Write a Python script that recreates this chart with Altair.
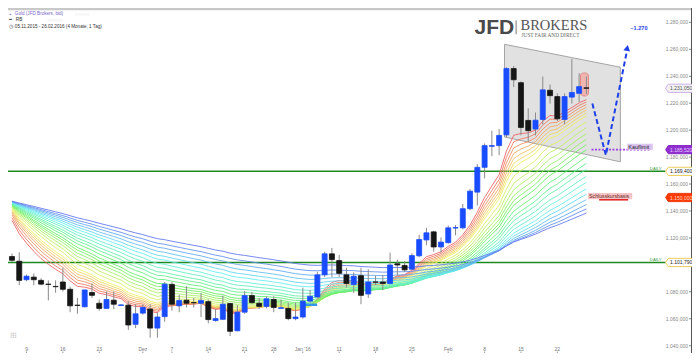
import colorsys
import altair as alt
import pandas as pd

# ---------------- data ----------------
day_index = list(range(-2, 78))
opens = [1106.2, 1102.7, 1089.0, 1090.9, 1088.5, 1085.7, 1084.0, 1087.3, 1081.9, 1070.1,
         1068.9, 1079.5, 1071.5, 1067.7, 1073.8, 1069.9, 1070.1, 1055.9, 1064.2, 1067.2,
         1053.1, 1061.6, 1085.5, 1069.6, 1073.8, 1072.0, 1071.5, 1072.7, 1058.7, 1059.6,
         1071.3, 1051.1, 1064.9, 1077.2, 1071.5, 1069.2, 1074.3, 1067.7, 1067.7, 1060.1,
         1061.3, 1073.1, 1076.2, 1092.6, 1108.2, 1103.2, 1092.6, 1085.5, 1092.0, 1078.4,
         1087.3, 1087.3, 1086.2, 1100.8, 1099.6, 1096.8, 1106.7, 1118.5, 1124.5, 1113.3,
         1116.5, 1127.3, 1127.5, 1141.7, 1154.0, 1172.4, 1188.0, 1188.5, 1196.5, 1245.7,
         1235.2, 1207.2, 1200.8, 1207.9, 1229.6, 1224.9, 1207.9, 1224.5, 1227.3, 1231.4]
highs = [1108.4, 1109.3, 1092.8, 1093.7, 1090.1, 1088.5, 1088.5, 1097.9, 1083.8, 1075.5,
         1081.4, 1086.2, 1074.3, 1080.2, 1080.2, 1070.8, 1073.1, 1070.8, 1070.8, 1070.8,
         1064.9, 1087.3, 1087.3, 1077.9, 1084.2, 1075.5, 1079.1, 1074.3, 1067.2, 1077.2,
         1072.0, 1070.1, 1080.7, 1079.8, 1075.5, 1076.7, 1076.7, 1074.3, 1072.0, 1072.0,
         1083.1, 1081.4, 1094.9, 1109.8, 1112.6, 1107.4, 1097.9, 1094.4, 1097.9, 1096.8,
         1092.0, 1092.6, 1109.1, 1103.9, 1102.7, 1108.6, 1122.3, 1127.5, 1125.2, 1120.4,
         1129.2, 1129.6, 1145.2, 1156.4, 1174.8, 1190.1, 1199.6, 1200.8, 1246.7, 1247.6,
         1236.2, 1216.2, 1213.1, 1239.8, 1233.9, 1227.3, 1227.3, 1252.8, 1242.2, 1239.8]
lows = [1102.0, 1084.9, 1087.8, 1084.9, 1084.9, 1073.6, 1079.3, 1080.2, 1064.9, 1063.7,
        1068.4, 1075.5, 1066.0, 1067.2, 1067.2, 1069.4, 1051.8, 1053.1, 1063.0, 1045.9,
        1045.9, 1057.8, 1066.0, 1064.9, 1068.4, 1068.4, 1061.3, 1056.6, 1057.8, 1059.4,
        1047.2, 1050.7, 1063.7, 1070.8, 1067.2, 1067.7, 1064.9, 1067.2, 1058.9, 1058.9,
        1060.1, 1072.0, 1075.5, 1090.9, 1090.9, 1090.9, 1083.1, 1079.1, 1070.8, 1075.5,
        1084.9, 1081.4, 1085.5, 1092.0, 1094.9, 1096.3, 1105.7, 1114.5, 1109.8, 1109.1,
        1115.7, 1121.9, 1126.3, 1140.5, 1144.0, 1164.2, 1180.7, 1181.4, 1194.9, 1232.0,
        1196.1, 1191.3, 1196.1, 1204.3, 1219.7, 1206.7, 1204.3, 1219.7, 1220.9, 1226.8]
closes = [1103.4, 1088.5, 1091.6, 1089.0, 1085.7, 1085.5, 1083.8, 1081.9, 1069.6, 1069.9,
          1081.4, 1077.4, 1067.7, 1074.3, 1070.8, 1070.3, 1055.4, 1063.7, 1068.4, 1053.1,
          1061.3, 1085.7, 1070.8, 1073.6, 1071.5, 1071.9, 1073.6, 1059.4, 1060.1, 1070.8,
          1050.7, 1064.9, 1077.2, 1072.0, 1069.2, 1074.8, 1068.4, 1068.2, 1060.1, 1061.3,
          1073.1, 1076.7, 1092.6, 1108.2, 1103.9, 1093.7, 1086.2, 1091.6, 1077.4, 1087.3,
          1087.2, 1086.2, 1099.9, 1099.9, 1096.3, 1106.9, 1118.8, 1123.8, 1113.3, 1116.9,
          1127.5, 1127.7, 1141.7, 1154.7, 1172.4, 1188.5, 1188.5, 1196.1, 1245.7, 1237.4,
          1202.0, 1199.6, 1207.4, 1229.9, 1225.6, 1208.4, 1224.9, 1228.0, 1232.3, 1231.05]

# rainbow indicator: EMA periods and their values at the left edge
ma_periods = [8, 9, 10, 11, 12, 13, 14, 16, 18, 20, 22, 24, 26, 29, 32, 35, 39, 43, 48, 53, 59, 66, 74, 85]
ma_start = [1133.0, 1135.0, 1137.0, 1138.5, 1139.5, 1140.5, 1141.3, 1142.0, 1142.6, 1143.1,
            1143.6, 1144.0, 1144.4, 1144.8, 1145.1, 1145.4, 1145.7, 1146.0, 1146.2, 1146.4,
            1146.6, 1146.8, 1147.0, 1147.3]

x_tick_days = [0, 5, 10, 16, 20, 25, 30, 34, 38, 43, 48, 53, 58, 63, 68, 73]
x_tick_labels = ["9", "16", "23", "Dez", "7", "14", "21", "28", "Jan '16", "11", "18", "25",
                 "Feb", "8", "15", "22"]
y_tick_values = [1040, 1060, 1080, 1120, 1140, 1160, 1180, 1200, 1220, 1240, 1260, 1280]

daily_levels = [1169.4, 1101.79]
kauflimit_level = 1185.52
schluss_level = 1148.3
channel_days = [65.74, 81.67]
channel_top = [1263.7, 1246.7]
channel_bottom = [1194.9, 1176.5]
scenario_days = [77.82, 79.68, 82.54]
scenario_values = [1219.7, 1181.4, 1257.8]
tag_values = [1231.05, 1185.52, 1169.4, 1150.0, 1101.79]
tag_labels = ["1.231,050", "1.185,520", "1.169,400", "1.150,000", "1.101,790"]

# ---------------- layout ----------------
W, H = 684, 345
SX, SY = W / 698.0, H / 361.0
px = lambda v: v * SX
py = lambda v: v * SY
xs = alt.Scale(domain=[-14 / 7.53, 684 / 7.53], nice=False, zero=False)
ys = alt.Scale(domain=[1034.6, 1290.64], nice=False, zero=False)
FONT = "Liberation Sans"


def X(f):
    return alt.X(f, scale=xs, axis=None)


def Y(f):
    return alt.Y(f, scale=ys, axis=None)


def de_num(v):
    s = f"{v:,.3f}"
    return s.replace(",", "#").replace(".", ",").replace("#", ".")


candles = pd.DataFrame({"i": day_index, "o": opens, "h": highs, "l": lows, "c": closes})
candles["col"] = ["#1a4cff" if c >= o else "#161616" for o, c in zip(opens, closes)]

nlines = len(ma_periods)
rainbow = []
for k in range(nlines):
    r, g, b = colorsys.hls_to_rgb(0.64 * k / (nlines - 1), 0.67, 0.82)
    rainbow.append("#%02x%02x%02x" % (int(r * 255), int(g * 255), int(b * 255)))

ma_rows = []
for k, (n, s) in enumerate(zip(ma_periods, ma_start)):
    a = 2.0 / (n + 1)
    e = s
    for j, (i, c) in enumerate(zip(day_index, closes)):
        if j > 0:
            e = e + a * (c - e)
        ma_rows.append({"i": i, "v": e, "k": k, "col": rainbow[k]})
ma_df = pd.DataFrame(ma_rows)

one = pd.DataFrame({"t": [""]})


def text(t, x, y, size=5, color="#333", align="left", weight="normal", font=FONT, baseline="middle"):
    return alt.Chart(pd.DataFrame({"t": [t]})).mark_text(
        align=align, baseline=baseline, fontSize=size, color=color, fontWeight=weight, font=font
    ).encode(x=alt.value(px(x)), y=alt.value(py(y)), text="t:N")


layers = []
# top border
layers.append(alt.Chart(one).mark_rule(color="#c8c8c8", strokeWidth=2.5).encode(
    x=alt.value(0), x2=alt.value(W), y=alt.value(1)))
# channel box
box = pd.DataFrame({"i": channel_days, "top": channel_top, "bot": channel_bottom})
layers.append(alt.Chart(box).mark_area(fill="#e1e1e1", stroke="#a5a5a5", strokeWidth=1).encode(
    x=X("i:Q"), y=Y("top:Q"), y2="bot:Q"))
# daily lines
layers.append(alt.Chart(pd.DataFrame({"v": daily_levels})).mark_rule(color="#1f8a1f", strokeWidth=1.5).encode(
    x=alt.value(0), x2=alt.value(px(671)), y=Y("v:Q")))
# rainbow
layers.append(alt.Chart(ma_df).mark_line(strokeWidth=0.9, clip=True).encode(
    x=X("i:Q"), y=Y("v:Q"), detail="k:N", stroke=alt.Stroke("col:N", scale=None),
    order=alt.Order("i:Q")))
# light blue marker
layers.append(alt.Chart(pd.DataFrame({"i0": [37.98], "i1": [39.97], "v": [1070.4]})).mark_rule(
    color="#3399ee", strokeWidth=2.5).encode(x=X("i0:Q"), x2="i1:Q", y=Y("v:Q")))
# highlight of last candle
layers.append(alt.Chart(pd.DataFrame({"i0": [76.19], "i1": [77.29], "v0": [1242.4], "v1": [1225.4]})).mark_rect(
    cornerRadius=3, fill="#f2a6a0", fillOpacity=0.75, stroke="#e38a85", strokeWidth=1).encode(
    x=X("i0:Q"), x2="i1:Q", y=Y("v0:Q"), y2="v1:Q"))
# wicks
layers.append(alt.Chart(candles).mark_rule(color="#8a8a8a", strokeWidth=1, clip=True).encode(
    x=X("i:Q"), y=Y("l:Q"), y2="h:Q"))
# bodies
layers.append(alt.Chart(candles).mark_bar(size=5, strokeWidth=0.8, clip=True).encode(
    x=X("i:Q"), y=Y("o:Q"), y2="c:Q",
    fill=alt.Fill("col:N", scale=None), stroke=alt.Stroke("col:N", scale=None)))

# ---- axes (drawn through the scales) ----
yt = pd.DataFrame({"v": y_tick_values, "t": [de_num(v) for v in y_tick_values]})
layers.append(alt.Chart(yt).mark_rule(color="#888", strokeWidth=1).encode(
    x=alt.value(px(695)), x2=alt.value(W), y=Y("v:Q")))
layers.append(alt.Chart(yt).mark_text(align="right", baseline="middle", fontSize=5, font=FONT,
                                      color="#888").encode(
    x=alt.value(px(694)), y=Y("v:Q"), text="t:N"))
layers.append(alt.Chart(one).mark_rule(color="#555", strokeWidth=1).encode(
    x=alt.value(W - 0.5), y=alt.value(0), y2=alt.value(H)))
xt = pd.DataFrame({"i": x_tick_days, "t": x_tick_labels})
layers.append(alt.Chart(xt).mark_text(align="center", baseline="middle", fontSize=5, font=FONT,
                                      color="#777").encode(
    x=X("i:Q"), y=alt.value(py(356.5)), text="t:N"))
layers.append(alt.Chart(xt).mark_rule(color="#999", strokeWidth=1).encode(
    x=X("i:Q"), y=alt.value(py(359.5)), y2=alt.value(H)))

# Kauflimit
layers.append(alt.Chart(pd.DataFrame({"i0": [77.7], "i1": [85.8], "v": [kauflimit_level]})).mark_rule(
    color="#a040e0", strokeWidth=1.6, strokeDash=[2, 1.5]).encode(x=X("i0:Q"), x2="i1:Q", y=Y("v:Q")))
layers.append(alt.Chart(one).mark_rect(fill="#dcc4f0").encode(
    x=alt.value(px(632)), x2=alt.value(px(658)), y=alt.value(py(142)), y2=alt.value(py(148.5))))
layers.append(text("Kauflimit", 633, 145.5, size=5.5, color="#222"))
# Schlusskursbasis
layers.append(alt.Chart(one).mark_rect(fill="#f6c4c4").encode(
    x=alt.value(px(592)), x2=alt.value(px(637)), y=alt.value(py(193.5)), y2=alt.value(py(200))))
layers.append(text("Schlusskursbasis", 593, 196.8, size=5.2, color="#6a2a2a"))
layers.append(alt.Chart(pd.DataFrame({"i0": [78.75], "i1": [82.74], "v": [schluss_level]})).mark_rule(
    color="#e02020", strokeWidth=1.5).encode(x=X("i0:Q"), x2="i1:Q", y=Y("v:Q")))
# scenario arrow
scen = pd.DataFrame({"i": scenario_days, "v": scenario_values, "n": [0, 1, 2]})
layers.append(alt.Chart(scen).mark_line(color="#1f3fe8", strokeWidth=2, strokeDash=[5, 3]).encode(
    x=X("i:Q"), y=Y("v:Q"), order="n:Q"))
layers.append(alt.Chart(pd.DataFrame({"i": [82.62], "v": [1261.0]})).mark_point(
    shape="triangle-up", filled=True, size=45, color="#1f3fe8", opacity=1, angle=11).encode(
    x=X("i:Q"), y=Y("v:Q")))
layers.append(text("~1.270", 635, 20.7, size=5.6, color="#1f3fe8", weight="bold"))
# DAILY labels
layers.append(text("DAILY", 655, 168.3, size=4.2, color="#3a9a3a"))
layers.append(text("DAILY", 655, 263.3, size=4.2, color="#3a9a3a"))
# price tags
tag_w = 28 * SX
tag_path = "M -1 0 L -0.8 -0.3 L 1 -0.3 L 1 0.3 L -0.8 0.3 Z"
tags = pd.DataFrame({
    "v": tag_values, "t": tag_labels,
    "fill": ["#f2f2f2", "#9030d0", "#ffffff", "#ff3a00", "#ffffff"],
    "stroke": ["#c8a8e8", "#8020c0", "#e8c84a", "#e83000", "#e8c84a"],
    "tc": ["#555555", "#e6ccff", "#222222", "#ffd6c8", "#222222"],
})
layers.append(alt.Chart(tags).mark_point(shape=tag_path, size=tag_w * tag_w, filled=True, opacity=1,
                                         strokeWidth=0.9).encode(
    x=alt.value(px(685)), y=Y("v:Q"),
    fill=alt.Fill("fill:N", scale=None), stroke=alt.Stroke("stroke:N", scale=None)))
layers.append(alt.Chart(tags).mark_text(fontSize=5, font=FONT, align="center", baseline="middle").encode(
    x=alt.value(px(687)), y=Y("v:Q"), text="t:N", color=alt.Color("tc:N", scale=None)))
# header
layers.append(text("▪", 1.5, 5.8, size=5, color="#7b68c8"))
layers.append(text("Gold (JFD Brokers, bid)", 7, 5.8, size=4.6, color="#7b68c8"))
layers.append(text("○○○○○", 68, 5.8, size=5, color="#cccccc"))
layers.append(text("━", 1, 12.5, size=4.6, color="#222"))
layers.append(text("RB", 8, 12.5, size=4.6, color="#333"))
layers.append(text("○○○○○", 40, 12.5, size=5, color="#cccccc"))
layers.append(text("◷", 1, 19.4, size=4.6, color="#444"))
layers.append(text("05.11.2015 - 26.02.2016 (4 Monate, 1 Tag)", 7, 19.4, size=4.6, color="#333"))
# logo
layers.append(text("JFD", 476, 27.5, size=21, color="#4a4a4a", weight="bold", baseline="alphabetic"))
layers.append(alt.Chart(one).mark_rule(color="#777", strokeWidth=1).encode(
    x=alt.value(px(518.5)), y=alt.value(py(13)), y2=alt.value(py(27.5))))
layers.append(text("BROKERS", 523, 22.8, size=14.5, color="#555", font="Liberation Serif", baseline="alphabetic"))
layers.append(text("JUST FAIR AND DIRECT", 524, 30, size=5.3, color="#666", font="Liberation Serif",
                   baseline="alphabetic"))
# corner icon
layers.append(text("⊞", 2, 343, size=8, color="#cccccc"))

chart = alt.layer(*layers).properties(
    width=W, height=H, padding=0, background="white",
    autosize=alt.AutoSizeParams(type="none"),
).configure_view(stroke=None)

chart.save("out.html", embed_options={"renderer": "svg", "actions": False})
